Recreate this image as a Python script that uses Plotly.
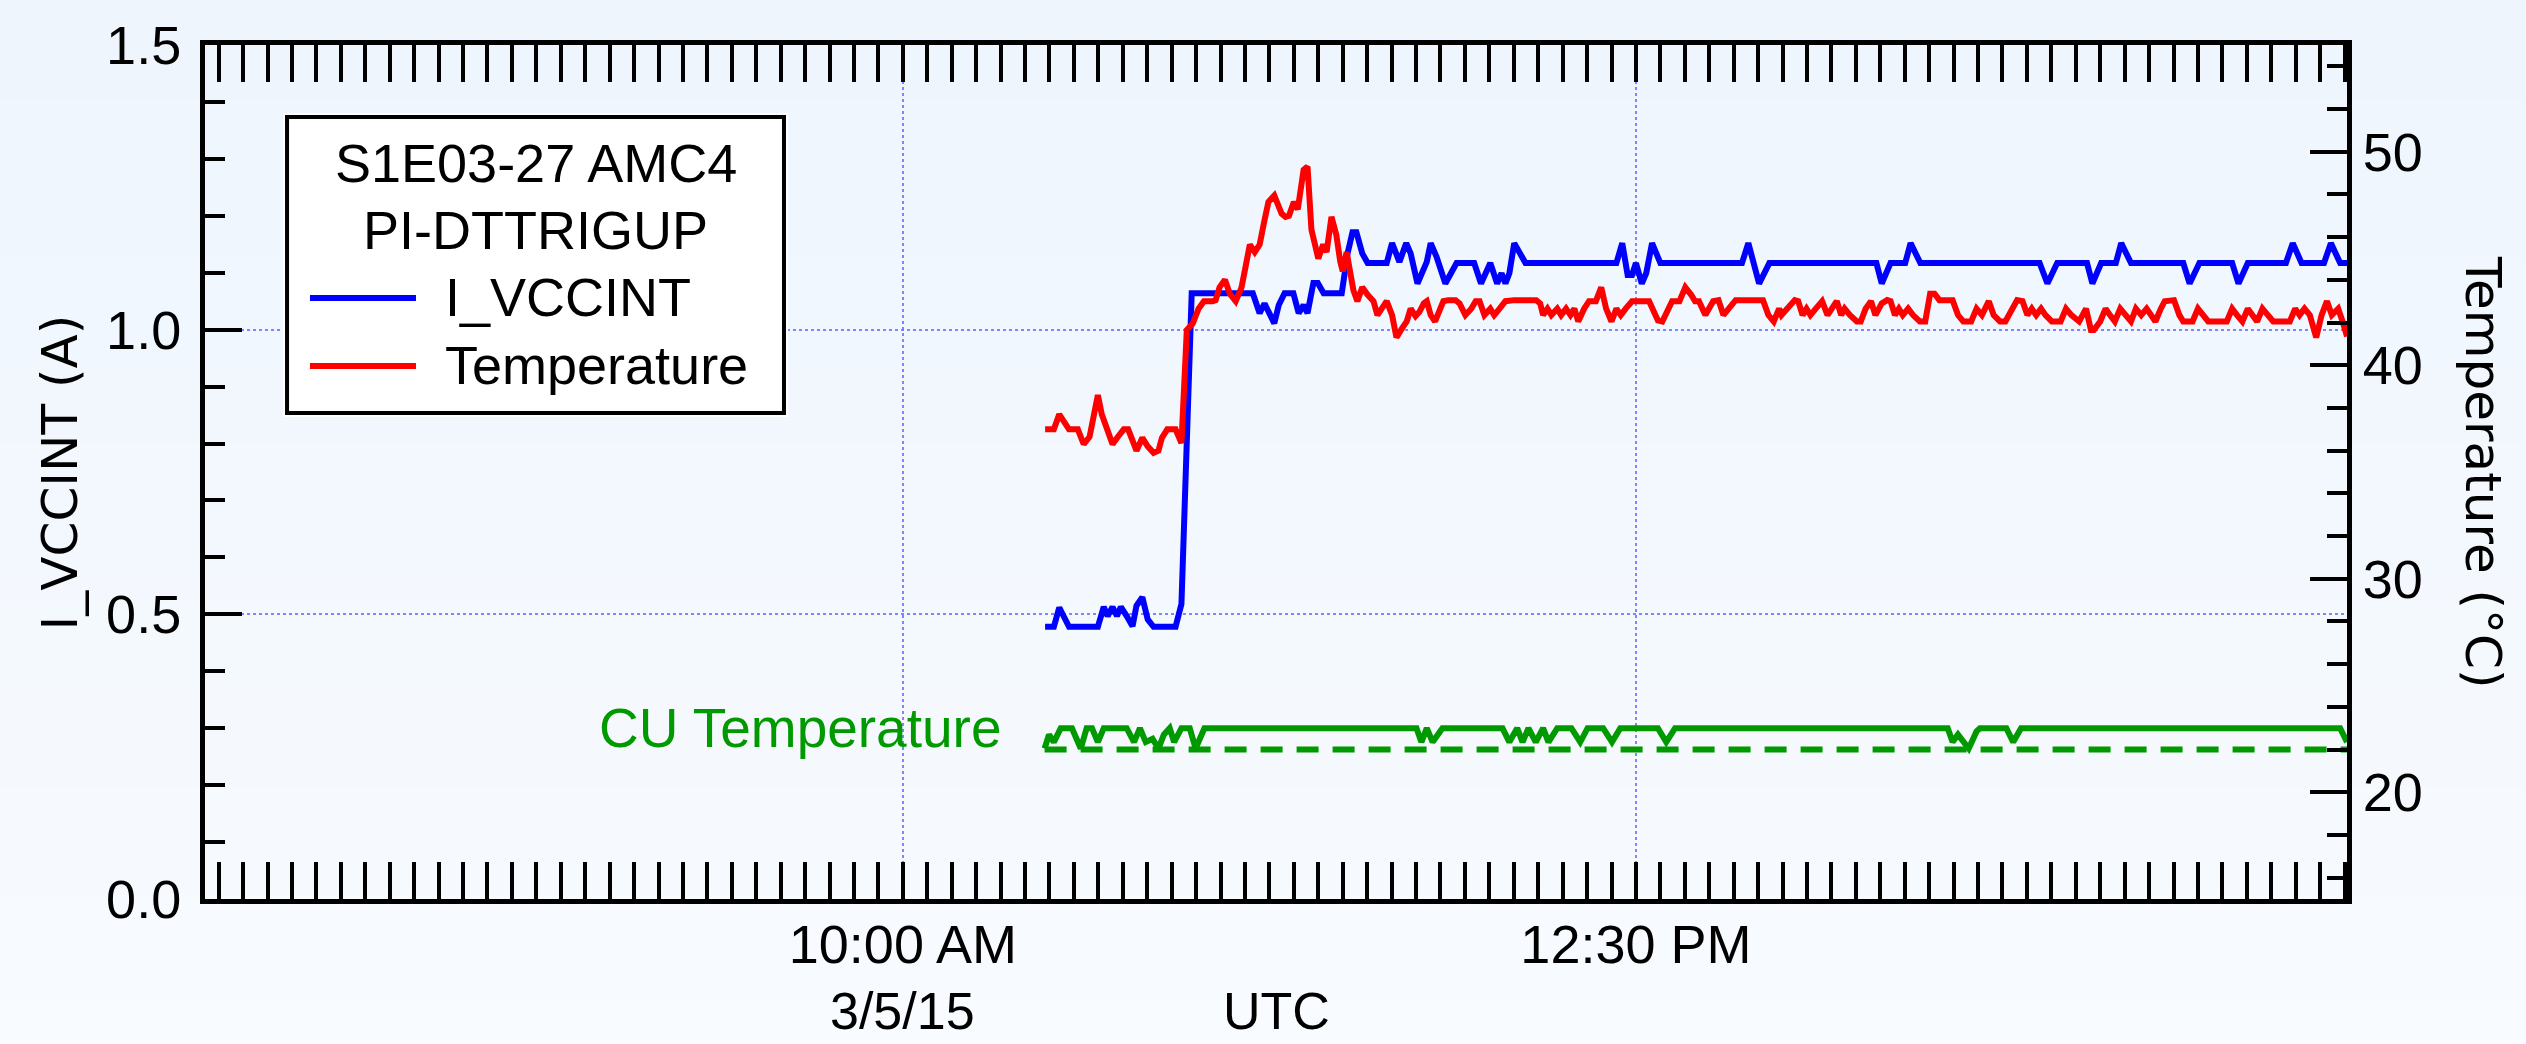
import pandas as pd
import plotly.graph_objects as go

# ---------------------------------------------------------------------------
# Data: vertices of each trace, time given in minutes after 10:00 UTC on 3/5/15
# ---------------------------------------------------------------------------
BASE = pd.Timestamp("2015-03-05 10:00:00")

vcc_min = [29.1, 30.9, 32.0, 33.5, 34.0, 39.9, 41.1, 41.9, 42.9, 43.8, 44.6, 45.8,
           47.0, 47.8, 49.0, 50.1, 51.3, 55.8, 57.0, 59.1, 71.6, 73.0, 74.0, 76.0,
           76.9, 78.1, 79.9, 81.0, 82.0, 82.8, 84.0, 84.9, 86.1, 89.8, 91.0, 92.0,
           92.8, 94.0, 95.1, 99.0, 100.1, 101.6, 103.0, 103.9, 105.3, 107.2, 108.0,
           109.2, 111.0, 113.3, 116.9, 118.3, 120.2, 121.6, 122.5, 123.3, 124.1,
           125.1, 127.4, 146.0, 147.2, 148.3, 149.2, 150.0, 151.2, 152.1, 153.3,
           155.0, 171.7, 173.0, 175.2, 177.3, 199.2, 200.3, 202.1, 205.1, 206.2,
           208.2, 232.6, 234.2, 236.2, 242.3, 243.4, 245.2, 248.2, 249.3, 251.3,
           262.0, 263.3, 265.3, 272.0, 273.3, 275.2, 283.0, 284.4, 286.2, 290.8,
           292.2, 294.1, 295.5]
vcc_amp = [0.478, 0.478, 0.512, 0.485, 0.478, 0.478, 0.513, 0.497, 0.513, 0.497, 0.513, 0.497,
           0.479, 0.515, 0.530, 0.491, 0.478, 0.478, 0.518, 1.064, 1.064, 1.029, 1.046, 1.011,
           1.043, 1.064, 1.064, 1.029, 1.043, 1.029, 1.082, 1.082, 1.064, 1.064, 1.134, 1.171,
           1.171, 1.134, 1.117, 1.117, 1.152, 1.119, 1.152, 1.134, 1.081, 1.119, 1.152,
           1.128, 1.081, 1.117, 1.117, 1.081, 1.117, 1.081, 1.099, 1.081, 1.099,
           1.152, 1.117, 1.117, 1.152, 1.096, 1.096, 1.117, 1.081, 1.099, 1.152,
           1.117, 1.117, 1.152, 1.081, 1.117, 1.117, 1.081, 1.117, 1.117, 1.152,
           1.117, 1.117, 1.081, 1.117, 1.117, 1.081, 1.117, 1.117, 1.152, 1.117,
           1.117, 1.081, 1.117, 1.117, 1.081, 1.117, 1.117, 1.152, 1.117, 1.117,
           1.152, 1.117, 1.117]

temp_min = [29.1, 30.9, 32.0, 33.5, 34.0, 35.8, 37.0, 38.2, 39.9, 40.7, 41.7, 42.9,
            44.0, 45.2, 46.1, 47.8, 49.0, 50.1, 51.3, 52.3, 53.0, 54.1, 55.8, 57.0,
            58.1, 59.3, 60.5, 61.6, 63.4, 64.0, 64.8, 65.9, 66.9, 68.1, 69.3, 69.9,
            71.0, 72.0, 73.0, 74.0, 74.8, 76.0, 76.7, 77.5, 78.3, 79.0, 80.0, 80.8,
            82.0, 82.8, 83.6, 85.0, 86.0, 86.7, 87.7, 88.7, 89.5, 90.0, 90.8, 91.6,
            92.2, 93.0, 94.0, 95.1, 96.3, 97.1, 97.8, 99.0, 100.1, 101.0, 102.2,
            103.1, 103.9, 104.9, 105.7, 106.6, 107.2, 108.0, 108.9, 109.8, 110.6,
            111.6, 113.1, 113.9, 115.1, 116.3, 117.2, 118.0, 119.0, 120.2, 121.0,
            122.1, 123.3, 125.1, 129.6, 130.4, 131.0, 131.9, 132.7, 133.9, 134.7,
            135.7, 136.6, 137.4, 138.2, 139.4, 140.4, 141.8, 142.9, 143.9, 145.0,
            146.0, 146.9, 147.9, 149.2, 152.7, 153.5, 154.5, 155.4, 156.6, 157.4,
            158.9, 160.1, 161.3, 162.1, 162.9, 164.2, 165.8, 166.9, 167.9, 169.6,
            170.4, 176.0, 177.1, 178.2, 179.3, 179.8, 180.9, 182.5, 183.2, 184.1,
            184.9, 185.7, 186.8, 188.1, 189.2, 190.0, 191.1, 192.0, 192.7, 193.8,
            195.2, 196.0, 197.0, 198.1, 199.0, 200.3, 201.4, 202.1, 203.0, 203.8,
            204.6, 205.7, 206.7, 208.1, 209.2, 210.2, 211.1, 212.1, 214.8, 215.9,
            217.0, 218.6, 219.7, 220.8, 222.2, 223.2, 224.5, 225.6, 226.9, 228.0,
            229.1, 230.1, 231.0, 231.9, 232.9, 233.8, 235.1, 236.9, 238.0, 239.1,
            240.7, 242.1, 243.1, 243.7, 245.0, 246.1, 247.0, 248.0, 249.1, 250.4,
            251.3, 252.3, 253.4, 254.5, 255.6, 256.3, 257.4, 258.2, 260.1, 261.2,
            262.0, 263.9, 265.0, 266.0, 267.1, 270.9, 272.0, 273.0, 274.1, 275.2,
            276.3, 277.1, 278.2, 279.3, 280.4, 283.8, 284.9, 285.8, 286.8, 287.9,
            289.2, 290.3, 291.4, 292.4, 293.7, 294.6, 295.5]
temp_c = [37.0, 37.0, 37.7, 37.2, 37.0, 37.0, 36.3, 36.65, 38.6, 37.7, 37.05, 36.3,
          36.65, 37.0, 37.0, 36.0, 36.6, 36.2, 35.9, 36.0, 36.6, 37.0, 37.0, 36.35,
          41.65, 41.95, 42.65, 43.0, 43.0, 43.05, 43.65, 44.0, 43.35, 43.0, 43.65, 44.4,
          45.65, 45.3, 45.65, 46.8, 47.65, 47.95, 47.45, 47.1, 46.95, 47.0, 47.65, 47.3,
          49.15, 49.3, 46.35, 45.0, 45.65, 45.3, 46.95, 46.1, 44.85, 44.4, 45.3, 44.05,
          43.5, 43.0, 43.65, 43.3, 43.0, 42.35, 42.6, 43.0, 42.35, 41.3, 41.75,
          42.05, 42.65, 42.3, 42.5, 42.9, 43.0, 42.35, 42.05, 42.65, 43.0,
          43.05, 43.05, 42.9, 42.35, 42.65, 43.0, 43.0, 42.35, 42.65, 42.35,
          42.65, 43.0, 43.05, 43.05, 42.9, 42.35, 42.65, 42.35, 42.65, 42.35,
          42.65, 42.35, 42.65, 42.05, 42.65, 43.0, 43.0, 43.65, 42.65, 42.05,
          42.65, 42.35, 42.65, 43.0, 43.0, 42.65, 42.1, 42.05, 42.65, 43.0,
          43.0, 43.65, 43.3, 43.0, 43.0, 42.35, 43.0, 43.05, 42.35, 42.9,
          43.05, 43.05, 42.35, 42.05, 42.65, 42.35, 42.65, 43.05, 43.0, 42.35,
          42.65, 42.35, 42.65, 43.0, 42.35, 42.65, 43.0, 42.35, 42.65, 42.35,
          42.05, 42.05, 42.65, 43.0, 42.35, 42.9, 43.05, 43.0, 42.35, 42.65,
          42.35, 42.65, 42.35, 42.05, 42.05, 43.35, 43.35, 43.05, 43.05, 42.35,
          42.05, 42.05, 42.65, 42.35, 43.0, 42.35, 42.05, 42.05, 42.65, 43.05,
          43.0, 42.35, 42.65, 42.35, 42.65, 42.35, 42.05, 42.05, 42.65, 42.35,
          42.05, 42.65, 41.65, 41.65, 42.05, 42.65, 42.35, 42.05, 42.65, 42.35,
          42.05, 42.65, 42.35, 42.65, 42.35, 42.05, 42.65, 43.0, 43.05, 42.35,
          42.05, 42.05, 42.65, 42.35, 42.05, 42.05, 42.65, 42.35, 42.05, 42.65,
          42.35, 42.05, 42.65, 42.35, 42.05, 42.05, 42.65, 42.35, 42.65, 42.35,
          41.3, 42.35, 43.0, 42.35, 42.65, 42.05, 41.35]

cu_min = [29.0, 29.9, 30.9, 32.3, 34.6, 36.4, 37.6, 38.7, 39.9, 41.1, 45.8, 47.3,
          48.5, 49.7, 51.1, 52.3, 53.4, 54.6, 55.5, 57.0, 58.7, 59.9, 61.7, 105.1,
          106.1, 107.2, 108.4, 110.4, 122.7, 124.1, 125.7, 126.8, 128.0, 129.5,
          131.0, 132.1, 133.9, 136.8, 138.6, 140.1, 143.3, 145.1, 146.8, 154.5,
          156.2, 158.0, 213.8, 214.8, 215.9, 218.1, 219.7, 220.4, 225.8, 227.2,
          228.8, 294.1, 295.5]
cu_c = [22.05, 22.7, 22.35, 23.0, 23.0, 22.05, 23.0, 23.0, 22.35, 23.0, 23.0, 22.35,
        23.0, 22.35, 22.5, 22.05, 22.7, 23.0, 22.35, 23.0, 23.0, 22.05, 23.0, 23.0,
        22.35, 23.0, 22.35, 23.0, 23.0, 22.35, 23.0, 22.35, 23.0, 22.35,
        23.0, 22.35, 23.0, 23.0, 22.35, 23.0, 23.0, 22.35, 23.0, 23.0,
        22.35, 23.0, 23.0, 22.35, 22.7, 22.05, 22.85, 23.0, 23.0, 22.35,
        23.0, 23.0, 22.35]

# CU temperature reference level (dashed)
cu_ref_min = [29.0, 295.5]
cu_ref_c = [22.0, 22.0]

# legend contents
legend_title = ["S1E03-27 AMC4", "PI-DTTRIGUP"]
legend_names = ["I_VCCINT", "Temperature"]
legend_colors = ["#0000FF", "#FF0000"]


def to_time(minutes):
    return [BASE + pd.Timedelta(minutes=m) for m in minutes]


FONT_FAMILY = "Liberation Sans, Arial, sans-serif"
TICK_FONT = dict(family=FONT_FAMILY, size=54, color="black")
DATE_FONT = dict(family=FONT_FAMILY, size=52, color="black")
TITLE_FONT = dict(family="DejaVu Sans, sans-serif", size=50, color="black")
GRID = "rgba(110,110,255,0.85)"
LINE_W = 6

fig = go.Figure()

fig.add_trace(go.Scatter(
    x=to_time(vcc_min), y=vcc_amp, name=legend_names[0], mode="lines",
    line=dict(color=legend_colors[0], width=LINE_W), xaxis="x", yaxis="y"))

fig.add_trace(go.Scatter(
    x=to_time(temp_min), y=temp_c, name=legend_names[1], mode="lines",
    line=dict(color=legend_colors[1], width=LINE_W), xaxis="x", yaxis="y2"))

fig.add_trace(go.Scatter(
    x=to_time(cu_min), y=cu_c, name="CU Temperature", mode="lines",
    line=dict(color="#009900", width=LINE_W), xaxis="x", yaxis="y2"))

fig.add_trace(go.Scatter(
    x=to_time(cu_ref_min), y=cu_ref_c, name="CU Temperature ref", mode="lines",
    line=dict(color="#009900", width=LINE_W, dash="22px,14px"),
    xaxis="x", yaxis="y2"))

x_lo = BASE + pd.Timedelta(minutes=-142.8)
x_hi = BASE + pd.Timedelta(minutes=295.5)
t_1000 = BASE
t_1230 = BASE + pd.Timedelta(minutes=150)

shapes = []

# ---- soft vertical background shading, bluish at the top, whiter at the bottom ----
N_BANDS = 40
Y_TOP, Y_BOT = 1.06, -0.18
TOP_RGB, BOT_RGB = (238, 245, 253), (248, 251, 255)
for i in range(N_BANDS):
    f = i / (N_BANDS - 1)
    rgb = tuple(round(a + (b - a) * f) for a, b in zip(TOP_RGB, BOT_RGB))
    y1 = Y_TOP + (Y_BOT - Y_TOP) * i / N_BANDS
    y0 = Y_TOP + (Y_BOT - Y_TOP) * (i + 1) / N_BANDS - 0.002
    shapes.append(dict(type="rect", xref="paper", yref="paper", layer="below",
                       x0=-0.12, x1=1.12, y0=y0, y1=y1,
                       fillcolor="rgb(%d,%d,%d)" % rgb, line=dict(width=0)))

# ---- boxed legend inside the plot area (paper coordinates) ----
LX0, LX1, LY0, LY1 = 0.0383, 0.2703, 0.5691, 0.9157
shapes += [
    dict(type="rect", xref="paper", yref="paper", layer="above",
         x0=LX0 - 0.0019, x1=LX1 + 0.0019, y0=LY0 - 0.0047, y1=LY1 + 0.0047,
         fillcolor="white", line=dict(width=0)),
    dict(type="rect", xref="paper", yref="paper", layer="above",
         x0=LX0, x1=LX1, y0=LY0, y1=LY1,
         fillcolor="white", line=dict(color="black", width=4)),
]
annotations = []
for txt, yy in zip(legend_title, [0.862, 0.783]):
    annotations.append(dict(text=txt, x=(LX0 + LX1) / 2, y=yy, xref="paper", yref="paper",
                            xanchor="center", yanchor="middle", showarrow=False,
                            font=TICK_FONT))
for name, col, yy in zip(legend_names, legend_colors, [0.7037, 0.6241]):
    shapes.append(dict(type="line", xref="paper", yref="paper", layer="above",
                       x0=0.0490, x1=0.0985, y0=yy, y1=yy,
                       line=dict(color=col, width=LINE_W)))
    annotations.append(dict(text=name, x=0.1111, y=yy + 0.001, xref="paper", yref="paper",
                            xanchor="left", yanchor="middle", showarrow=False,
                            font=TICK_FONT))

annotations += [
    dict(text="3/5/15", x=t_1000, y=-0.1311, xref="x", yref="paper", borderpad=0,
         xanchor="center", yanchor="middle", showarrow=False, font=DATE_FONT),
    dict(text="UTC", x=0.5, y=-0.1311, xref="paper", yref="paper", borderpad=0,
         xanchor="center", yanchor="middle", showarrow=False, font=DATE_FONT),
    dict(text="CU Temperature", x=BASE + pd.Timedelta(minutes=20.5), y=23.0,
         xref="x", yref="y2", xanchor="right", yanchor="middle", showarrow=False,
         font=dict(family=FONT_FAMILY, size=55, color="#009900")),
    dict(text="I_VCCINT (A)", x=-0.0675, y=0.5, xref="paper", yref="paper",
         textangle=-90, xanchor="center", yanchor="middle", showarrow=False,
         font=TITLE_FONT),
    dict(text="Temperature (°C)", x=1.0635, y=0.5, xref="paper", yref="paper",
         textangle=90, xanchor="center", yanchor="middle", showarrow=False,
         font=TITLE_FONT),
]

fig.update_layout(
    width=2526, height=1044,
    margin=dict(l=205, r=179, t=45, b=145, pad=0),
    paper_bgcolor="#F4F8FD", plot_bgcolor="rgba(0,0,0,0)",
    showlegend=False,
    xaxis=dict(
        type="date", range=[x_lo, x_hi],
        tickvals=[t_1000, t_1230], ticktext=["10:00 AM", "12:30 PM"],
        ticks="inside", ticklen=37, tickwidth=4, tickcolor="black",
        tickfont=TICK_FONT, ticklabelstandoff=-6,
        showline=True, linewidth=5, linecolor="black", mirror="allticks",
        showgrid=True, gridcolor=GRID, gridwidth=1.5, griddash="dot",
        zeroline=False,
        minor=dict(dtick=5 * 60 * 1000, tick0=t_1000, ticks="inside", ticklen=20,
                   tickwidth=4, tickcolor="black", showgrid=False),
    ),
    xaxis2=dict(
        type="date", overlaying="x", matches="x", anchor="y", range=[x_lo, x_hi],
        tick0=t_1000, dtick=15 * 60 * 1000,
        ticks="inside", ticklen=28, tickwidth=4, tickcolor="black",
        showticklabels=False, showgrid=False, zeroline=False,
        showline=True, linewidth=5, linecolor="black", mirror="allticks",
    ),
    yaxis=dict(
        range=[0, 1.5], tick0=0, dtick=0.5, tickformat=".1f",
        ticks="inside", ticklen=37, tickwidth=4, tickcolor="black",
        tickfont=TICK_FONT, ticklabelstandoff=8,
        showline=True, linewidth=5, linecolor="black",
        showgrid=True, gridcolor=GRID, gridwidth=1.5, griddash="dot",
        zeroline=False,
        minor=dict(dtick=0.1, tick0=0, ticks="inside", ticklen=20, tickwidth=4,
                   tickcolor="black", showgrid=False),
    ),
    yaxis2=dict(
        range=[15, 55], tick0=0, dtick=10, overlaying="y", side="right", anchor="x",
        ticks="inside", ticklen=37, tickwidth=4, tickcolor="black",
        tickfont=TICK_FONT,
        showline=True, linewidth=5, linecolor="black",
        showgrid=False, zeroline=False,
        minor=dict(dtick=2, tick0=0, ticks="inside", ticklen=20, tickwidth=4,
                   tickcolor="black", showgrid=False),
    ),
    shapes=shapes,
    annotations=annotations,
)

fig.write_html("out.html")
